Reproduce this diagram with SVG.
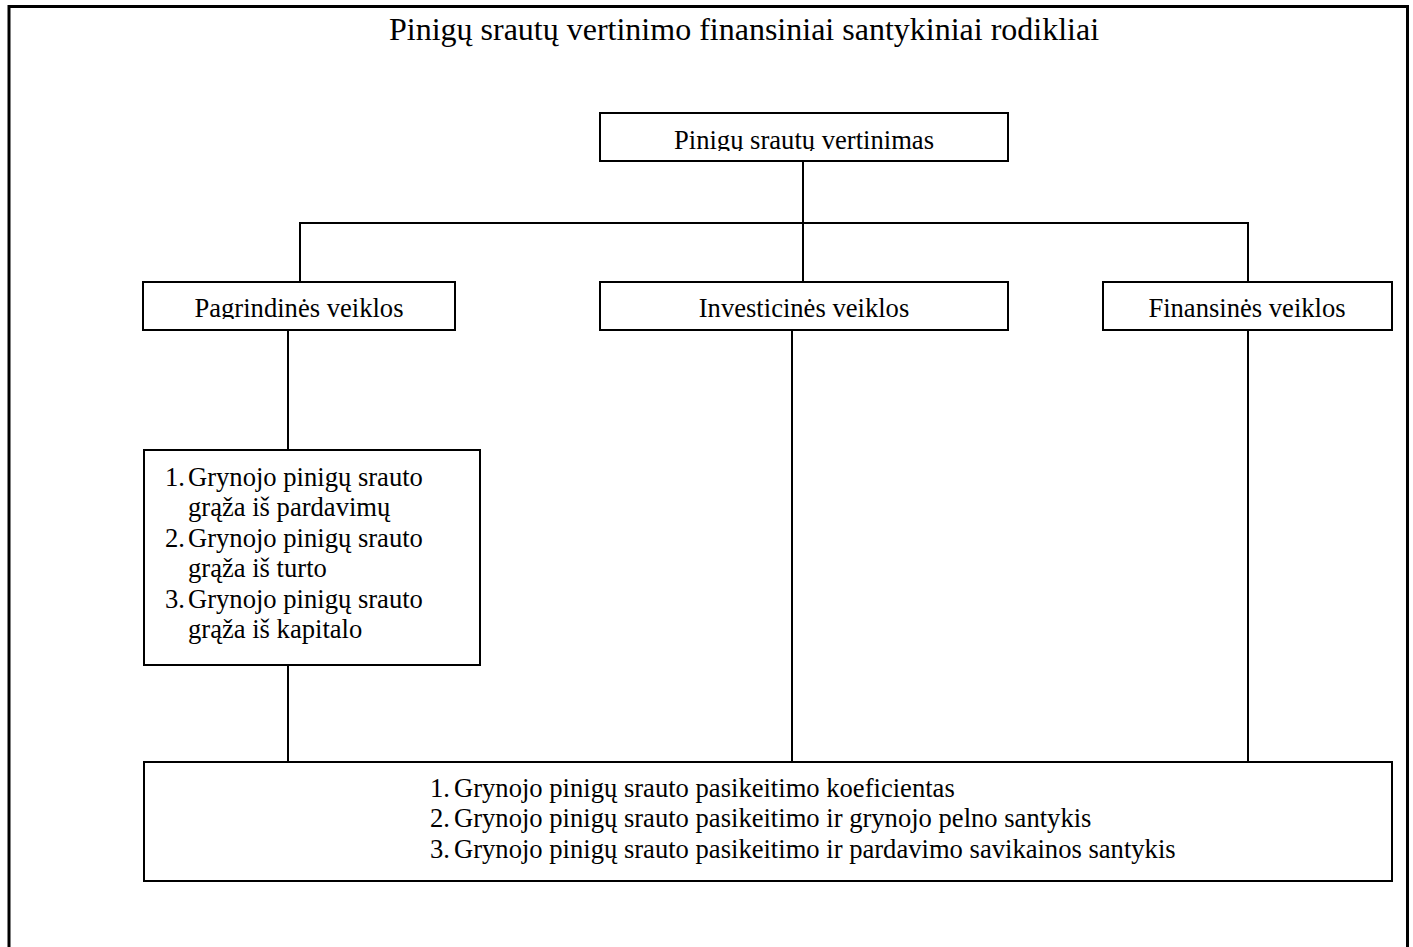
<svg xmlns="http://www.w3.org/2000/svg" width="1413" height="947" viewBox="0 0 1413 947">
  <style>
    .frame { fill: none; stroke: #000; stroke-width: 3; }
    .box { fill: #fff; stroke: #000; stroke-width: 2; }
    .link { fill: none; stroke: #000; stroke-width: 2; }
    .t { font-family: "Liberation Serif", "Times New Roman", serif; font-size: 26.6px; fill: #000; }
    .title { font-family: "Liberation Serif", "Times New Roman", serif; font-size: 32px; fill: #000; }
    .mid { text-anchor: middle; }
  </style>
  <defs>
    <!-- descenders are trimmed just below the baseline inside the narrow boxes -->
    <clipPath id="clipTop"><rect x="600" y="113" width="408" height="38"/></clipPath>
    <clipPath id="clipMain"><rect x="143" y="282" width="312" height="37"/></clipPath>
  </defs>

  <rect width="1413" height="947" fill="#fff"/>

  <!-- outer frame (bottom edge runs past the page) -->
  <rect class="frame" x="9" y="6.5" width="1398.5" height="960"/>

  <text class="title mid" x="744" y="40">Pinigų srautų vertinimo finansiniai santykiniai rodikliai</text>

  <g id="connectors">
    <line class="link" x1="803" y1="161" x2="803" y2="223"/>
    <line class="link" x1="299" y1="223" x2="1249" y2="223"/>
    <line class="link" x1="300" y1="223" x2="300" y2="282"/>
    <line class="link" x1="803" y1="223" x2="803" y2="282"/>
    <line class="link" x1="1248" y1="223" x2="1248" y2="282"/>
    <line class="link" x1="288" y1="330" x2="288" y2="450"/>
    <line class="link" x1="288" y1="665" x2="288" y2="762"/>
    <line class="link" x1="792" y1="330" x2="792" y2="762"/>
    <line class="link" x1="1248" y1="330" x2="1248" y2="762"/>
  </g>

  <g id="root">
    <rect class="box" x="600" y="113" width="408" height="48"/>
    <text class="t mid" x="804" y="149" clip-path="url(#clipTop)">Pinigų srautų vertinimas</text>
  </g>

  <g id="operating">
    <rect class="box" x="143" y="282" width="312" height="48"/>
    <text class="t mid" x="299" y="317" clip-path="url(#clipMain)">Pagrindinės veiklos</text>
  </g>

  <g id="investing">
    <rect class="box" x="600" y="282" width="408" height="48"/>
    <text class="t mid" x="804" y="317">Investicinės veiklos</text>
  </g>

  <g id="financing">
    <rect class="box" x="1103" y="282" width="289" height="48"/>
    <text class="t mid" x="1247" y="317">Finansinės veiklos</text>
  </g>

  <g id="operating-ratios">
    <rect class="box" x="144" y="450" width="336" height="215"/>
    <text class="t" x="165" y="485.5">1.</text>
    <text class="t" x="188" y="485.5">Grynojo pinigų srauto</text>
    <text class="t" x="188" y="516">grąža iš pardavimų</text>
    <text class="t" x="165" y="546.5">2.</text>
    <text class="t" x="188" y="546.5">Grynojo pinigų srauto</text>
    <text class="t" x="188" y="577">grąža iš turto</text>
    <text class="t" x="165" y="607.5">3.</text>
    <text class="t" x="188" y="607.5">Grynojo pinigų srauto</text>
    <text class="t" x="188" y="638">grąža iš kapitalo</text>
  </g>

  <g id="change-ratios">
    <rect class="box" x="144" y="762" width="1248" height="119"/>
    <text class="t" x="430" y="796.5">1.</text>
    <text class="t" x="454" y="796.5">Grynojo pinigų srauto pasikeitimo koeficientas</text>
    <text class="t" x="430" y="827">2.</text>
    <text class="t" x="454" y="827">Grynojo pinigų srauto pasikeitimo ir grynojo pelno santykis</text>
    <text class="t" x="430" y="857.5">3.</text>
    <text class="t" x="454" y="857.5">Grynojo pinigų srauto pasikeitimo ir pardavimo savikainos santykis</text>
  </g>
</svg>
